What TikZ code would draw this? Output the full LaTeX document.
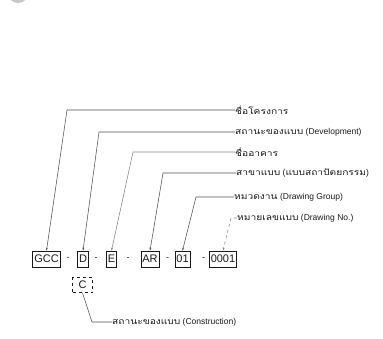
\documentclass[tikz,border=0pt]{standalone}
\usepackage{fontspec}
\setmainfont{Liberation Sans}
\newfontfamily\thaifont[Script=Thai, FakeStretch=1.2]{Loma}
\usetikzlibrary{arrows.meta, positioning}
\definecolor{ink}{RGB}{25,25,25}
\definecolor{leader}{RGB}{80,80,80}

\begin{document}
\begin{tikzpicture}[
        x=1pt, y=-1pt,
        code/.style={draw=ink, line width=0.7pt, minimum height=16pt, inner xsep=1.5pt, inner ysep=0pt, font=\fontsize{11}{11}\selectfont, text=ink},
        sep/.style={font=\fontsize{9}{9}\selectfont, text=ink, inner sep=0pt},
        lab/.style={anchor=west, inner sep=0pt, font=\fontsize{8.5}{8.5}\selectfont, text=ink},
        pointer/.style={draw=leader, line width=0.55pt, -{Stealth[length=3pt, width=2pt]}},
      ]
      \useasboundingbox (0,0) rectangle (383,338);
      \fill[gray!45] (18,-7) circle (10);
      % code boxes
      \node[code] (gcc) at (46.5,259) {GCC};
      \node[code] (dev) at (83,259) {D};
      \node[code] (bldg) at (111.5,259) {E};
      \node[code] (disc) at (150,259) {AR};
      \node[code] (grp) at (182.5,259) {01};
      \node[code] (num) at (223,259) {0001};
      \node[code, dashed, minimum width=20pt, minimum height=15pt] (con) at (82.5,285) {C};
      \node[sep] (s1) at (68,259) {-};
      \node[sep] (s2) at (96,259) {-};
      \node[sep] (s3) at (128,259) {-};
      \node[sep] (s4) at (167.5,259) {-};
      \node[sep] (s5) at (203.5,259) {-};
      % labels
      \node[lab] (l1) at (235,110) {\thaifont ชื่อโครงการ};
      \node[lab] (l2) at (235,132) {{\thaifont สถานะของแบบ} (Development)};
      \node[lab] (l3) at (235,152) {\thaifont ชื่ออาคาร};
      \node[lab] (l4) at (236,173) {{\thaifont สาขาแบบ} ({\thaifont แบบสถาปัตยกรรม})};
      \node[lab] (l5) at (234,197) {{\thaifont หมวดงาน} (Drawing Group)};
      \node[lab] (l6) at (237,218) {{\thaifont หมายเลขแบบ} (Drawing No.)};
      \node[lab] (l7) at (112,322) {{\thaifont สถานะของแบบ} (Construction)};
      % bends
      \coordinate (k1) at (67,110);
      \coordinate (k2) at (99,132);
      \coordinate (k3) at (133,152);
      \coordinate (k4) at (163,173);
      \coordinate (k5) at (196,197);
      \coordinate (k6) at (231,218);
      \coordinate (k7) at (92,322);
      \draw[pointer] (l1.west) -- (k1) -- (gcc.north);
      \draw[pointer] (l2.west) -- (k2) -- (dev.north);
      \draw[pointer, draw=leader!70] (l3.west) -- (k3) -- (bldg.north);
      \draw[pointer] (l4.west) -- (k4) -- (disc.north);
      \draw[pointer] (l5.west) -- (k5) -- (grp.north);
      \draw[pointer, draw=leader!70, dashed] (l6.west) -- (k6) -- (num.north);
      \draw[draw=leader, line width=0.55pt] (l7.west) -- (k7) -- (con.south);
    \end{tikzpicture}
\end{document}
